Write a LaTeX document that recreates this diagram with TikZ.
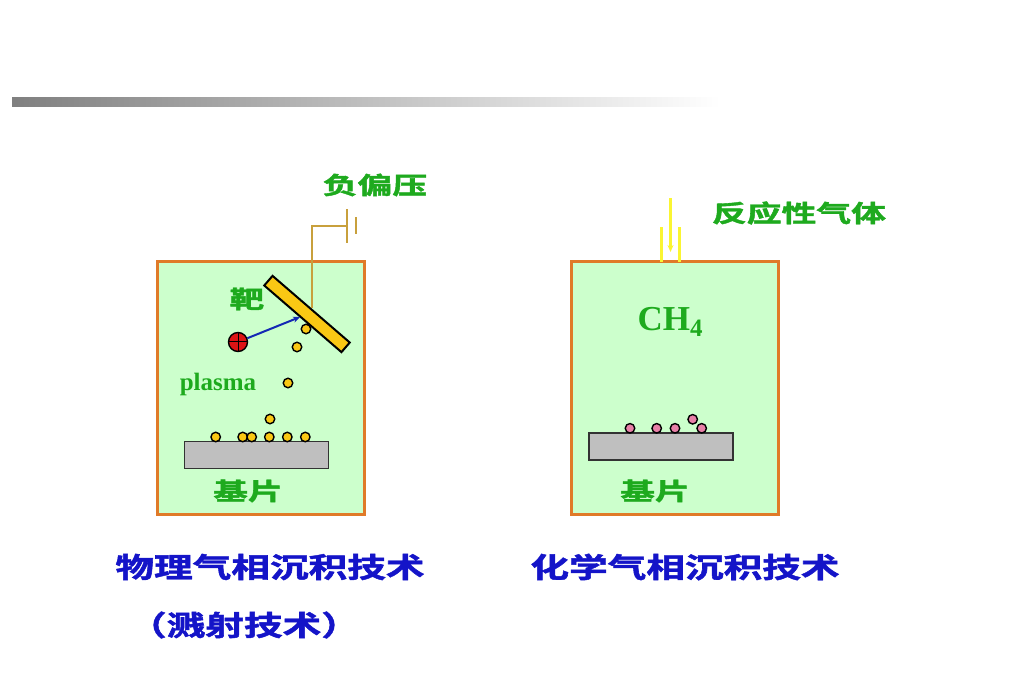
\documentclass[tikz,border=0pt]{standalone}
\usepackage{fontspec}
\setmainfont{Liberation Serif}
\newfontfamily\cjk{Noto Sans CJK SC}[BoldFont={Noto Sans CJK SC Bold},BoldFeatures={FakeBold=1.5}]
\usetikzlibrary{calc,arrows.meta}
\definecolor{boxfill}{RGB}{204,255,204}
\definecolor{boxline}{RGB}{224,122,40}
\definecolor{labgreen}{RGB}{30,170,30}
\definecolor{labblue}{RGB}{20,20,200}
\definecolor{targold}{RGB}{250,200,20}
\definecolor{wiregold}{RGB}{200,160,60}
\definecolor{gasyel}{RGB}{250,245,50}
\definecolor{dotpink}{RGB}{232,128,168}
\definecolor{ionred}{RGB}{220,20,20}
\definecolor{arrblue}{RGB}{20,40,180}
\begin{document}
\begin{tikzpicture}[x=1pt,y=-1pt,
  chamber/.style={draw=boxline,fill=boxfill,line width=3pt,minimum width=207pt,minimum height=252pt,inner sep=0pt},
  substrate/.style={draw=black!80,fill=gray!50,line width=1.3pt,minimum width=144pt,minimum height=27pt,inner sep=0pt},
  atom/.style={circle,draw=black,line width=1.4pt,minimum size=9.5pt,inner sep=0pt},
  greenlab/.style={text=labgreen,font=\cjk\bfseries\fontsize{24}{24}\selectfont,xscale=1.45},
  bluelab/.style={text=labblue,font=\cjk\bfseries\fontsize{28}{28}\selectfont,xscale=1.38},
  wire/.style={draw=wiregold,line width=2.5pt},
  gas/.style={draw=gasyel,line width=2.5pt}]
\useasboundingbox (0,0) rectangle (1013,695);
\shade [left color=gray, right color=white] (12,98) rectangle (720,107);
\node [chamber] (pvd) at (260.5,388) {};
\node [chamber] (cvd) at (674.5,388) {};
\node [substrate] (sub1) at (256.3,455.3) {};
\node [substrate] (sub2) at (661,446.5) {};
\node [draw=black,fill=targold,line width=2pt,minimum width=102pt,minimum height=12.7pt,inner sep=0pt,rotate=-40.8] (tgt) at (307,314) {};
\coordinate (bat) at (347,226);
\draw [wire] (tgt.north) |- (bat);
\draw [wire] ($(bat)+(0,-17)$) -- ($(bat)+(0,17)$);
\draw [wire] ($(bat)+(9,-8.5)$) -- ($(bat)+(9,8.5)$);
\node [circle,draw=black,fill=ionred,line width=1.4pt,minimum size=19pt,inner sep=0pt] (ion) at (238,342) {};
\draw [line width=1pt] (ion.north) -- (ion.south) (ion.west) -- (ion.east);
\coordinate (hit) at (300,317);
\draw [arrblue,line width=2pt,-{Stealth[length=7pt,width=6pt]}] (ion) -- (hit);
\foreach \x/\y [count=\i] in {306/329,297/347,288/383,270/419,215.7/437,242.7/437,251.7/437,269.3/437,287.3/437,305.3/437}
  \node [atom,fill=targold] (p\i) at (\x,\y) {};
\foreach \x/\y [count=\i] in {630/428.3,656.7/428.3,675/428.3,701.7/428.3,692.7/419.3}
  \node [atom,fill=dotpink] (q\i) at (\x,\y) {};
\coordinate (inlet) at (670.5,262);
\draw [gas] ($(inlet)+(-9,0)$) -- ++(0,-35);
\draw [gas] ($(inlet)+(9,0)$) -- ++(0,-35);
\draw [gas,-{Stealth[length=7pt,width=6pt]}] ($(inlet)+(0,-64)$) -- ($(inlet)+(0,-10)$);
\node [greenlab] (bias) at (375,185) {负偏压};
\node [greenlab] (react) at (799,213) {反应性气体};
\node [greenlab] (tlab) at (247,299) {靶};
\node [text=labgreen,font=\bfseries\fontsize{25}{25}\selectfont] (plasma) at (218,384) {plasma};
\node [text=labgreen,font=\bfseries\fontsize{35}{35}\selectfont] (ch4) at (670,322) {CH\raisebox{-6pt}{\fontsize{25}{25}\selectfont 4}};
\node [greenlab] (s1lab) at (248,491) {基片};
\node [greenlab] (s2lab) at (655,491) {基片};
\node [bluelab] (pvdlab) at (270,567) {物理气相沉积技术};
\node [bluelab] (cvdlab) at (685,567) {化学气相沉积技术};
\node [bluelab] (sputlab) at (244,625) {（溅射技术）};
\end{tikzpicture}
\end{document}
